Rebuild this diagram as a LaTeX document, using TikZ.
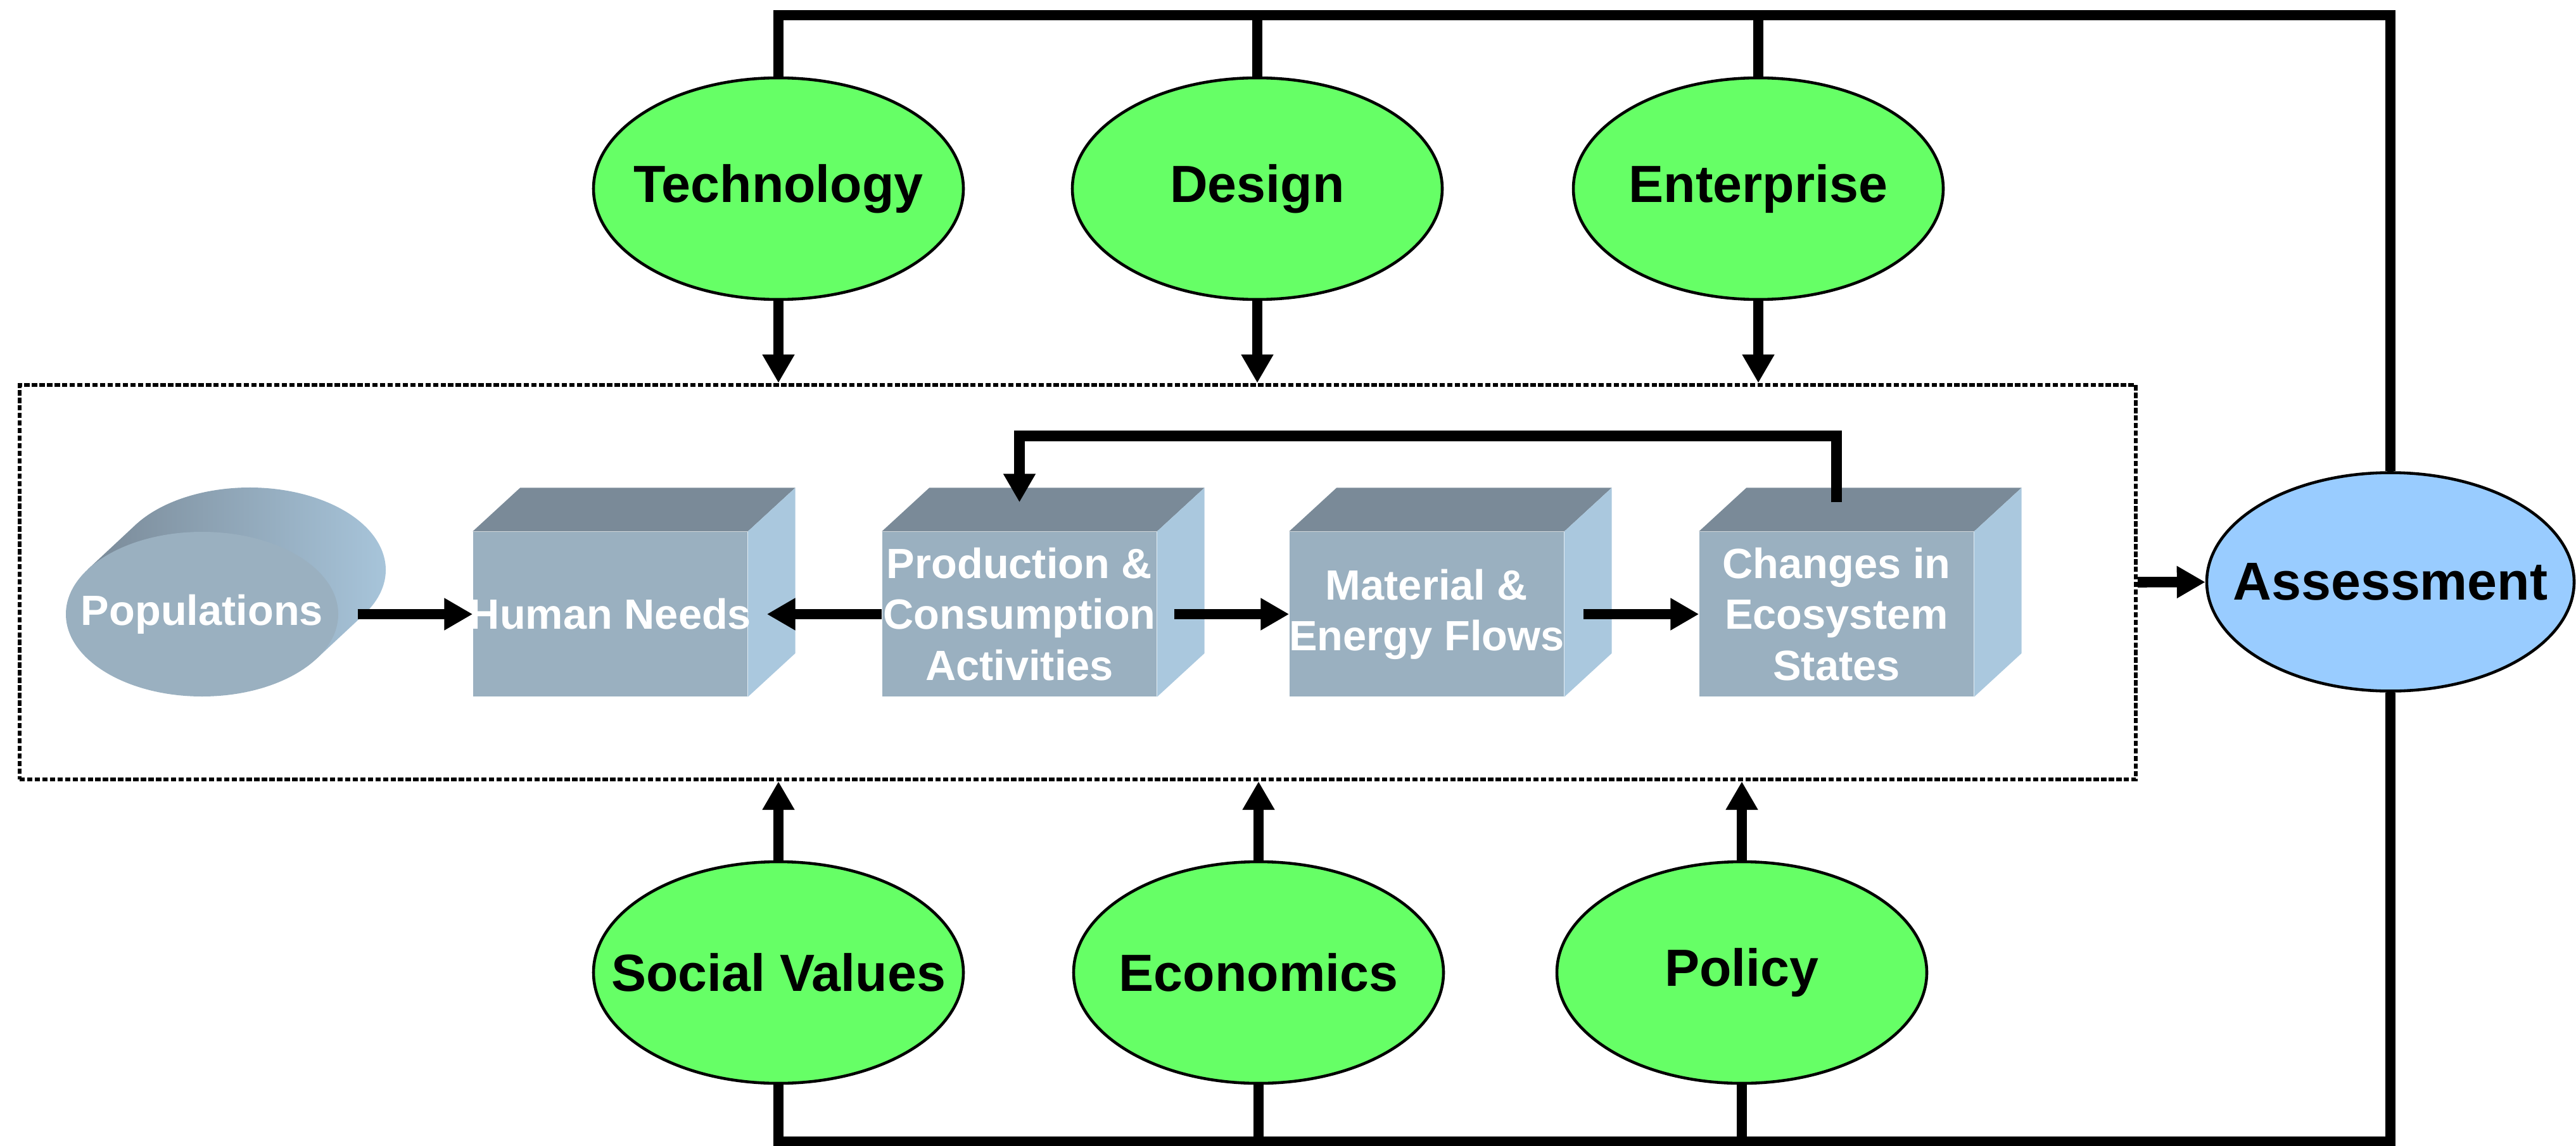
\documentclass[tikz,border=0pt]{standalone}
\usepackage{fontspec}
\setmainfont{Liberation Sans}
\usetikzlibrary{shapes.geometric,arrows.meta,calc,backgrounds}
\definecolor{leafgreen}{HTML}{66FF66}
\definecolor{skyblue}{HTML}{99CCFF}
\definecolor{cubefront}{HTML}{9AB0C0}
\definecolor{cubetop}{HTML}{7A8A98}
\definecolor{cubeside}{HTML}{AAC8DE}

\begin{document}
\begin{tikzpicture}[
	driver/.style = {draw, ellipse, line width=1.3pt, fill=leafgreen, minimum width=5.84cm, minimum height=3.5cm, inner xsep=-1cm, inner ysep=0pt, font=\fontsize{23.5}{28}\selectfont\bfseries},
	assess/.style = {driver, fill=skyblue, minimum width=5.8cm, minimum height=3.45cm, font=\fontsize{24}{28}\selectfont\bfseries},
	block/.style = {fill=cubefront, minimum width=4.33cm, minimum height=2.6cm, inner xsep=-3mm, inner ysep=0pt, text=white, align=center, font=\fontsize{19}{22.8}\selectfont\bfseries},
	drum/.style = {block, ellipse, minimum width=4.3cm, minimum height=2.6cm, inner xsep=-1cm},
	sysbox/.style = {draw, line width=1.8pt, dash pattern=on 2.4pt off 1pt, minimum width=33.41cm, minimum height=6.23cm, inner sep=0pt},
	wire/.style = {line width=4.7pt},
	arr/.style = {wire, -{Triangle[width=4.8mm, length=4.5mm]}}]

		\useasboundingbox (0,0) rectangle (40.67,-18.10);

		\node[sysbox] (sys) at (17.015,-9.195) {};

		\node[driver] (tech) at (12.29,-2.98) {Technology};
		\node[driver] (des) at (19.85,-2.98) {Design};
		\node[driver] (ent) at (27.76,-2.98) {Enterprise};
		\node[driver] (soc) at (12.29,-15.36) {Social Values};
		\node[driver] (eco) at (19.87,-15.36) {Economics};
		\node[driver] (pol) at (27.50,-15.36) {Policy};
		\node[assess] (ass) at (37.74,-9.19) {Assessment};

		\node[drum] (pop) at (3.19,-9.70) {Populations};
		\node[block] (hn) at (9.635,-9.70) {Human Needs};
		\node[block] (prod) at (16.095,-9.70) {Production \&\\Consumption\\Activities};
		\node[block] (mat) at (22.525,-9.70) {Material \&\\Energy Flows};
		\node[block] (chg) at (28.995,-9.70) {Changes in\\Ecosystem\\States};

		\begin{scope}[on background layer]
			\shade[left color=cubetop, right color=cubeside] ($(pop)+(-32.9:2.15 and 1.3)$) -- ++(0.75,0.7) arc[start angle=-32.9, end angle=147.1, x radius=2.15, y radius=1.3] -- ++(-0.75,-0.7) -- cycle;
			\foreach \c in {hn,prod,mat,chg} {
				\fill[cubetop] (\c.north west) -- ++(0.75,0.69) -- ($(\c.north east)+(0.75,0.69)$) -- (\c.north east) -- cycle;
				\fill[cubeside] (\c.north east) -- ++(0.75,0.69) -- ($(\c.south east)+(0.75,0.69)$) -- (\c.south east) -- cycle;
			}
		\end{scope}

		\coordinate (topbar) at (0,-0.24);
		\coordinate (botbar) at (0,-18.03);
		\coordinate (chgtop) at ($(chg.north)+(0,0.46)$);
		\coordinate (prodtop) at ($(prod.north)+(0,0.46)$);

		\draw[wire] (tech.north) -- (tech.north |- topbar) -| (ass.north);
		\draw[wire] (des.north) -- (des.north |- topbar);
		\draw[wire] (ent.north) -- (ent.north |- topbar);
		\draw[wire] (soc.south) -- (soc.south |- botbar) -| (ass.south);
		\draw[wire] (eco.south) -- (eco.south |- botbar);
		\draw[wire] (pol.south) -- (pol.south |- botbar);

		\draw[arr] (tech) -- (tech |- sys.north);
		\draw[arr] (des) -- (des |- sys.north);
		\draw[arr] (ent) -- (ent |- sys.north);
		\draw[arr] (soc) -- (soc |- sys.south);
		\draw[arr] (eco) -- (eco |- sys.south);
		\draw[arr] (pol) -- (pol |- sys.south);

		\draw[arr, shorten <=3mm] (pop) -- (hn);
		\draw[arr, shorten >=3mm] (prod) -- (hn);
		\draw[arr, shorten <=2.7mm] (prod) -- (mat);
		\draw[arr, shorten <=3mm] (mat) -- (chg);
		\draw[arr] (chgtop) -- ++(0,1.05) -| (prodtop);

		\draw[arr] (sys.east) -- (ass);
	\end{tikzpicture}
\end{document}
